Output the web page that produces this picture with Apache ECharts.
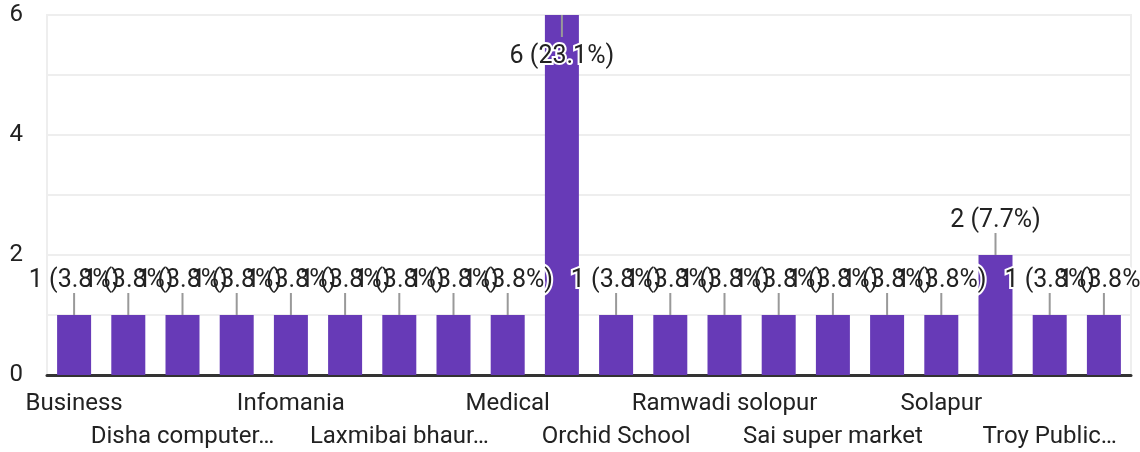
<!DOCTYPE html>
<html>
<head>
<meta charset="utf-8">
<script src="https://cdn.jsdelivr.net/npm/echarts@6/dist/echarts.min.js"></script>
<style>
html,body{margin:0;padding:0;background:#fff;}
#chart{width:1140px;height:452px;}
</style>
</head>
<body>
<div id="chart"></div>
<script>
const categories = [
  "Business", "Clothing shop", "Disha computer…", "Hospital", "Infomania",
  "Kirana store", "Laxmibai bhaur…", "Mall", "Medical", "None",
  "Orchid School", "Pharmacy", "Ramwadi solopur", "Restaurant", "Sai super market",
  "Shop", "Solapur", "Student", "Troy Public…", "Vegetable market"
];
const counts = [1, 1, 1, 1, 1, 1, 1, 1, 1, 6, 1, 1, 1, 1, 1, 1, 1, 2, 1, 1];
const yTicks = [0, 2, 4, 6];

const total = counts.reduce((a, b) => a + b, 0);
const FONT = 'Roboto, Arial, sans-serif';
const LINE_LEN = 22, TEXT_OFF = 34, TEXT_OFF_BELOW = 42;

function labelGeom(params, api) {
  const v = api.value(1);
  const p = api.coord([api.value(0), v]);
  const cs = params.coordSys;
  const below = p[1] - TEXT_OFF - 14 < cs.y;
  const dir = below ? 1 : -1;
  return {
    x: p[0], y0: p[1], y1: p[1] + dir * LINE_LEN,
    ty: p[1] + dir * (below ? TEXT_OFF_BELOW : TEXT_OFF),
    text: v + ' (' + (v / total * 100).toFixed(1) + '%)'
  };
}

const labelData = counts.map((v, i) => [i, v]);

const labelStyle = {color: '#222222', fontFamily: FONT, fontSize: 24, verticalAlign: 'top', hideOverlap: false};

const chart = echarts.init(document.getElementById('chart'), null, {renderer: 'canvas'});
chart.setOption({
  animation: false,
  grid: {left: 47, right: 9, top: 15, bottom: 77, show: true, borderColor: '#eeeeee', borderWidth: 2, backgroundColor: 'transparent', outerBoundsMode: 'none'},
  xAxis: [
    {
      type: 'category',
      data: categories,
      position: 'bottom',
      axisTick: {show: false},
      axisLine: {show: true, lineStyle: {color: '#333333', width: 3}},
      axisLabel: Object.assign({}, labelStyle, {
        interval: (i) => i % 4 === 0,
        margin: 17
      })
    },
    {
      type: 'category',
      data: categories,
      position: 'bottom',
      axisTick: {show: false},
      axisLine: {show: false},
      splitLine: {show: false},
      axisLabel: Object.assign({}, labelStyle, {
        interval: (i) => i % 4 === 2,
        margin: 50
      })
    }
  ],
  yAxis: {
    type: 'value',
    min: 0, max: 6, interval: 1,
    axisLine: {show: true, lineStyle: {color: '#eeeeee', width: 2}},
    axisTick: {show: false},
    splitLine: {lineStyle: {color: '#eeeeee', width: 2}},
    axisLabel: {
      margin: 24,
      color: '#222222',
      fontFamily: FONT,
      fontSize: 24,
      formatter: v => (yTicks.indexOf(v) >= 0 ? String(v) : '')
    }
  },
  series: [
    {
      type: 'bar',
      data: counts,
      barWidth: 34,
      itemStyle: {color: '#673ab7'},
      z: 2
    },
    {
      type: 'custom',
      data: labelData,
      z: 3,
      silent: true,
      renderItem: (params, api) => {
        const g = labelGeom(params, api);
        return {type: 'line', shape: {x1: g.x, y1: g.y0, x2: g.x, y2: g.y1}, style: {stroke: '#999999', lineWidth: 2}};
      }
    },
    {
      type: 'custom',
      data: labelData,
      z: 4,
      silent: true,
      renderItem: (params, api) => {
        const g = labelGeom(params, api);
        return {type: 'text', x: g.x, y: g.ty, style: {text: g.text, fill: '#ffffff', stroke: '#ffffff', lineWidth: 4, font: '25px ' + FONT, align: 'center', verticalAlign: 'middle'}};
      }
    },
    {
      type: 'custom',
      data: labelData,
      z: 5,
      silent: true,
      renderItem: (params, api) => {
        const g = labelGeom(params, api);
        return {type: 'text', x: g.x, y: g.ty, style: {text: g.text, fill: '#222222', font: '25px ' + FONT, align: 'center', verticalAlign: 'middle'}};
      }
    }
  ]
});
</script>
</body>
</html>
